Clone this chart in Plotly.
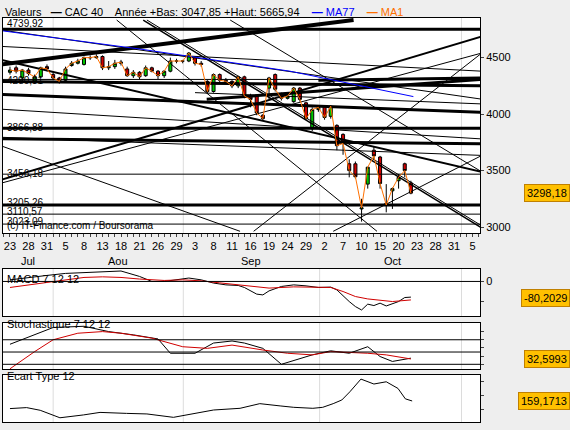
import plotly.graph_objects as go

# ---- donnees (index = jour de bourse depuis le 23 juillet) ----
idx = list(range(66))
ouv = [4370, 4410, 4320, 4390, 4290, 4330, 4420, 4350, 4320, 4300,
       4430, 4450, 4440, 4500, 4500, 4510, 4410, 4420, 4450, 4400,
       4340, 4370, 4340, 4410, 4380, 4340, 4380, 4470, 4470, 4470,
       4500, 4450, 4290, 4200, 4350, 4300, 4290, 4250, 4330, 4160,
       4160, 3990, 4230, 4350, 4180, 4140, 4110, 4230, 4100, 3870,
       4040, 4070, 3980, 3900, 3820, 3560, 3560, 3160, 3380, 3680,
       3620, 3210, 3320, 3410, 3560, 3390]
haut = [4420, 4430, 4400, 4410, 4350, 4420, 4440, 4370, 4330, 4420,
        4470, 4490, 4510, 4520, 4530, 4520, 4470, 4480, 4480, 4420,
        4390, 4380, 4430, 4420, 4390, 4390, 4500, 4490, 4480, 4550,
        4510, 4470, 4300, 4360, 4360, 4320, 4300, 4340, 4340, 4180,
        4170, 4000, 4330, 4360, 4190, 4180, 4240, 4240, 4110, 4060,
        4080, 4080, 4080, 3910, 3830, 3600, 3580, 3250, 3530, 3710,
        3630, 3380, 3350, 3470, 3570, 3410]
bas = [4350, 4360, 4270, 4340, 4270, 4320, 4380, 4300, 4270, 4290,
       4420, 4440, 4430, 4480, 4490, 4390, 4390, 4400, 4430, 4330,
       4320, 4310, 4330, 4370, 4310, 4320, 4370, 4450, 4450, 4460,
       4430, 4420, 4180, 4190, 4280, 4260, 4230, 4230, 4140, 4060,
       3990, 3940, 4130, 4200, 4120, 4130, 4100, 4110, 3950, 3850,
       4020, 3950, 3960, 3680, 3640, 3440, 3430, 3048, 3340, 3600,
       3340, 3130, 3160, 3340, 3440, 3290]
clot = [4390, 4380, 4390, 4360, 4330, 4410, 4400, 4320, 4290, 4400,
        4450, 4470, 4500, 4500, 4510, 4410, 4420, 4450, 4460, 4340,
        4370, 4330, 4410, 4380, 4340, 4380, 4470, 4470, 4470, 4540,
        4450, 4440, 4200, 4350, 4300, 4290, 4250, 4330, 4160, 4130,
        4010, 3960, 4320, 4220, 4140, 4160, 4230, 4130, 3960, 4040,
        4060, 3970, 4070, 3720, 3740, 3500, 3445, 3170, 3530, 3630,
        3385, 3195, 3340, 3440, 3500, 3300]

ma77_x = [-1.6, 21.1, 45.4, 65.4]
ma77_y = [4740, 4576, 4380, 4155]

# lignes de tendance : (x0, y0, x1, y1, epaisseur)
tendances = [
    (-1.6, 4751, 76.5, 4751, 3), (-1.6, 3874, 76.5, 3874, 3),
    (-1.6, 3196, 76.5, 3196, 3), (-1.6, 3468, 76.5, 3468, 1),
    (-1.6, 3114, 76.5, 3114, 1), (-1.6, 3026, 76.5, 3026, 1),
    (-1.6, 4307, 76.5, 4307, 1), (-1.6, 4439, 55.7, 4833, 4),
    (-1.6, 4175, 76.5, 4015, 3), (-1.6, 3781, 76.5, 3737, 3),
    (-1.6, 3795, 76.5, 3634, 1), (-1.6, 3415, 76.5, 4687, 2),
    (-1.6, 3386, 76.5, 4541, 1), (-1.6, 4482, 76.5, 3488, 2),
    (31.9, 4132, 76.5, 4307, 3), (21.6, 4833, 76.5, 2991, 1.5),
    (22.2, 4833, 76.5, 3010, 1), (35.7, 4833, 76.5, 3488, 1),
    (17.3, 4833, 59.5, 2962, 1), (-1.6, 3722, 37.3, 2962, 1),
    (39.5, 2962, 76.5, 4541, 1), (52.4, 2962, 76.5, 3634, 1),
    (-1.6, 4746, 76.5, 4132, 1), (50.0, 4300, 76.5, 4320, 3),
    (-1.6, 4044, 76.5, 3780, 1), (-1.6, 4290, 76.5, 4250, 3),
    (30.0, 4190, 76.5, 4090, 1), (-1.6, 4600, 76.5, 4380, 1),
]
niveaux = ["4739,92", "4290,81", "3866,88", "3456,18", "3205,26", "3110,57", "3023,09"]
niveaux_y = [4800, 4300, 3880, 3475, 3215, 3135, 3045]

jours = ["23", "28", "31", "5", "8", "13", "18", "21", "26", "29", "3", "8", "11",
         "16", "19", "24", "29", "2", "7", "10", "15", "20", "23", "28", "31", "5"]
jours_x = list(range(0, 78, 3))
mois = ["Jul", "Aou", "Sep", "Oct"]
mois_x = [3, 17.5, 39, 62]
debut_mois = [7, 28.1, 50.2, 73.2]

macd_x = [0, 3, 6, 9, 12, 15, 18, 21, 23, 25, 27, 29, 31, 33, 35, 37, 38, 39, 40, 41,
          42, 44, 46, 48, 50, 52, 53, 55, 56, 57, 58, 59, 60, 61, 62, 63, 64, 65]
macd = [8, 20, 30, 40, 45, 47, 52, 25, 0, 0, 7, 17, 8, -8, -17, -20, -30, -47, -63, -67,
        -47, -25, -17, -22, -30, -28, -42, -100, -125, -142, -113, -120, -108, -122,
        -112, -100, -80, -78]
signal_x = [0, 4, 8, 12, 15, 18, 21, 25, 28, 31, 34, 37, 40, 42, 46, 50, 52, 54, 56, 58,
            60, 62, 65]
signal = [-30, -13, 3, 20, 23, 20, 12, 5, 8, 3, -7, -17, -30, -33, -27, -30, -30, -50,
          -75, -87, -92, -100, -92]
stoch_x = [0, 4, 7, 12, 16, 20, 24, 26, 30, 33, 36, 38, 41, 44, 49, 52, 55, 58, 60, 62, 65]
stoch_k = [69, 92, 110, 113, 100, 92, 82, 47, 47, 72, 77, 72, 59, 20, 43, 53, 47, 63, 39,
           27, 35]
stoch_d_x = [0, 4, 7, 11, 15, 18, 23, 28, 32, 36, 41, 45, 49, 52, 58, 61, 65]
stoch_d = [9, 51, 80, 96, 100, 96, 84, 63, 59, 67, 55, 47, 43, 51, 47, 43, 33]
ecart_x = [0, 2.7, 4.9, 8.1, 11.9, 14.6, 18.9, 22.2, 26.5, 29.7, 33, 37.3, 40.5, 43.8,
           46, 49.1, 50.7, 52.4, 53.8, 55.1, 56.9, 59, 61, 62.9, 64.1, 65.2]
ecart = [105, 112, 93, 40, 60, 78, 71, 67, 43, 67, 95, 107, 140, 124, 114, 107, 114,
         140, 166, 224, 314, 279, 295, 248, 174, 159]

fig = go.Figure()
font = dict(family="Liberation Sans", size=11, color="black")
xr = [-1.13, 76.2]

# ---- panneau principal ----
for x0, y0, x1, y1, w in tendances:
    fig.add_trace(go.Scatter(x=[x0, x1], y=[y0, y1], mode="lines",
                             line=dict(color="black", width=w), hoverinfo="skip",
                             showlegend=False, xaxis="x", yaxis="y"))
fig.add_trace(go.Scatter(x=ma77_x, y=ma77_y, mode="lines",
                         line=dict(color="#0000ff", width=1), showlegend=False))
fig.add_trace(go.Scatter(x=idx, y=clot, mode="lines",
                         line=dict(color="#ff7000", width=1), showlegend=False))
fig.add_trace(go.Candlestick(
    x=idx, open=ouv, high=haut, low=bas, close=clot, whiskerwidth=0,
    increasing=dict(line=dict(color="black", width=1), fillcolor="#00c800"),
    decreasing=dict(line=dict(color="black", width=1), fillcolor="#d00000"),
    showlegend=False))

# ---- sous-panneaux ----
fig.add_trace(go.Scatter(x=macd_x, y=macd, mode="lines", line=dict(color="black", width=1),
                         showlegend=False, xaxis="x2", yaxis="y2"))
fig.add_trace(go.Scatter(x=signal_x, y=signal, mode="lines", line=dict(color="#d00000", width=1),
                         showlegend=False, xaxis="x2", yaxis="y2"))
fig.add_trace(go.Scatter(x=stoch_x, y=stoch_k, mode="lines", line=dict(color="black", width=1),
                         showlegend=False, xaxis="x3", yaxis="y3"))
fig.add_trace(go.Scatter(x=stoch_d_x, y=stoch_d, mode="lines", line=dict(color="#d00000", width=1),
                         showlegend=False, xaxis="x3", yaxis="y3"))
fig.add_trace(go.Scatter(x=ecart_x, y=ecart, mode="lines", line=dict(color="black", width=1),
                         showlegend=False, xaxis="x4", yaxis="y4"))

for m in debut_mois:
    for xa, ya in [("x", "y"), ("x2", "y2"), ("x3", "y3"), ("x4", "y4")]:
        fig.add_shape(type="line", xref=xa, yref=ya + " domain", x0=m, x1=m, y0=0, y1=1,
                      line=dict(color="#dcdcdc", width=1), layer="below")
for v in [80, 50, 20]:
    fig.add_shape(type="line", xref="x3", yref="y3", x0=xr[0], x1=xr[1], y0=v, y1=v,
                  line=dict(color="black", width=1))
fig.add_shape(type="line", xref="x2", yref="y2", x0=xr[0], x1=xr[1], y0=0, y1=0,
              line=dict(color="black", width=1))

dom_x = [3 / 570, 480 / 570]
ax = dict(range=xr, showgrid=False, zeroline=False, showline=True, linecolor="black",
          mirror=True, domain=dom_x, fixedrange=True)
ay = dict(side="right", showgrid=False, zeroline=False, showline=True, linecolor="black",
          mirror=True, ticks="outside", ticklen=3, tickfont=font)

fig.update_layout(
    width=570, height=430, margin=dict(l=0, r=0, t=0, b=0),
    paper_bgcolor="#eeeeee", plot_bgcolor="white", font=font,
    xaxis=dict(ax, anchor="y", tickvals=jours_x, ticktext=jours, ticks="outside",
               ticklen=3, tickfont=dict(family="Liberation Sans", size=11),
               minor=dict(dtick=1, ticks="outside", ticklen=3, tick0=0),
               rangeslider=dict(visible=False)),
    yaxis=dict(ay, domain=[1 - 233 / 430, 1 - 18 / 430], range=[2947, 4851],
               tickvals=[3000, 3500, 4000, 4500]),
    xaxis2=dict(ax, anchor="y2", showticklabels=False),
    yaxis2=dict(ay, domain=[1 - 316 / 430, 1 - 269 / 430], range=[-172, 62],
                tickvals=[0, -100], ticktext=["0", ""]),
    xaxis3=dict(ax, anchor="y3", showticklabels=False),
    yaxis3=dict(ay, domain=[1 - 369 / 430, 1 - 323 / 430], range=[8.5, 121],
                tickvals=[20, 40, 60, 80, 100], ticktext=[""] * 5),
    xaxis4=dict(ax, anchor="y4", showticklabels=False),
    yaxis4=dict(ay, domain=[1 - 422 / 430, 1 - 375 / 430], range=[10, 343],
                tickvals=[100, 200, 300], ticktext=[""] * 3),
)

# ---- textes ----
ann = []
for m, mx in zip(mois, mois_x):
    ann.append(dict(x=mx, y=1 - 261 / 430, xref="x", yref="paper", text=m,
                    showarrow=False, font=font))
for t, ty in zip(niveaux, niveaux_y):
    ann.append(dict(x=0.008, y=ty, xref="paper", yref="y", text=t, showarrow=False,
                    xanchor="left", font=dict(family="Liberation Sans", size=10)))
ann.append(dict(x=0.008, y=1 - 225 / 430, xref="paper", yref="paper",
                text="(c) IT-Finance.com / Boursorama", showarrow=False, xanchor="left",
                font=dict(family="Liberation Sans", size=10)))
ann.append(dict(x=0.005, y=1 - 4 / 430, xref="paper", yref="paper", xanchor="left",
                yanchor="top",
                text="Valeurs   <b>—</b> CAC 40    Année +Bas: 3047,85 +Haut: 5665,94"
                     "    <span style='color:#0000ff'><b>—</b> MA77</span>    "
                     "<span style='color:#ff7000'><b>—</b> MA1</span>",
                showarrow=False, font=font))
for txt, yv, ya in [("MACD 7 12 12", 1 - 279 / 430, "paper"),
                    ("Stochastique 7 12 12", 1 - 332 / 430, "paper"),
                    ("Ecart Type 12", 1 - 384 / 430, "paper")]:
    ann.append(dict(x=0.008, y=yv, xref="paper", yref=ya, text=txt, xanchor="left",
                    showarrow=False, font=font))
for txt, yv, ya in [("3298,18", clot[-1], "y"), ("-80,2029", -80.2, "y2"),
                    ("32,5993", 32.6, "y3"), ("159,1713", 159.17, "y4")]:
    ann.append(dict(x=1.0, y=yv, xref="paper", yref=ya, text=txt, xanchor="right",
                    showarrow=False, bgcolor="#ffc000", bordercolor="#c08000",
                    borderpad=2, font=font))
fig.update_layout(annotations=ann)

fig.write_html("out.html", config={"displayModeBar": False},
               post_script="document.body.style.margin='0';")
